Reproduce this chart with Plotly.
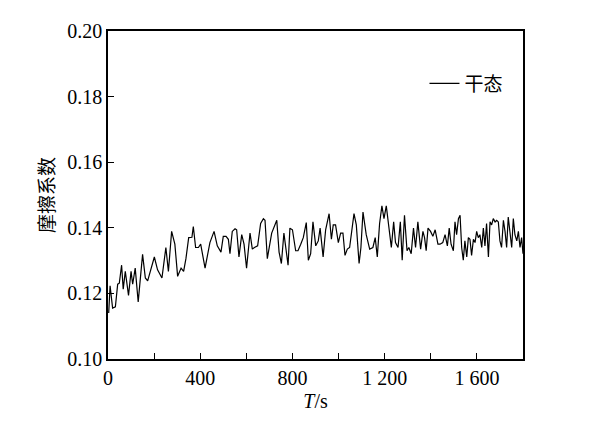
import plotly.graph_objects as go

# Time (s) and friction coefficient
time_s = [3, 9, 20, 32, 42, 49, 59, 66, 75, 89, 100, 107, 118, 131, 150, 162, 172, 186, 201, 215,
          234, 251, 262, 276, 290, 302, 317, 328, 338, 350,
          364, 370, 380, 392, 402, 421, 442, 460, 474, 490, 500, 512, 522, 529, 539, 551, 558, 568,
          580, 590, 601, 616, 626, 635, 649, 662, 674, 681, 691, 710,
          724, 732, 742, 752, 763, 781, 789, 800, 814, 824, 836, 847, 860, 869, 879, 889, 901, 912,
          920, 933, 944, 959, 969, 977, 987, 999, 1009, 1019, 1028, 1038, 1048, 1060, 1067, 1077,
          1089, 1097, 1106, 1120, 1135, 1149, 1159, 1168, 1178, 1188, 1197, 1207, 1217, 1229, 1239,
          1247, 1258, 1268, 1276, 1286, 1297, 1305, 1315, 1325, 1334, 1344, 1356, 1366, 1373, 1380,
          1388, 1399, 1409, 1419, 1431,
          1440, 1452, 1462, 1472, 1480, 1488, 1498, 1505, 1512, 1520, 1527, 1534, 1541, 1548, 1556,
          1563, 1570, 1577, 1585, 1592, 1599, 1606, 1613, 1621, 1628, 1635, 1642, 1650, 1657, 1664,
          1671, 1679, 1686, 1693, 1700, 1707, 1715, 1722, 1729, 1736, 1744, 1751, 1758, 1765, 1773,
          1780, 1787, 1794, 1800]
friction = [0.1140, 0.1223, 0.1155, 0.1159, 0.1228, 0.1231, 0.1286, 0.1213, 0.1267, 0.1194, 0.1267,
            0.1228, 0.1277, 0.1174, 0.1319, 0.1247, 0.1238, 0.1277, 0.1311, 0.1272,
            0.1247, 0.1340, 0.1267, 0.1389, 0.1350, 0.1252, 0.1277, 0.1267, 0.1306, 0.1370,
            0.1371, 0.1404, 0.1340, 0.1340, 0.1350, 0.1277, 0.1355, 0.1389, 0.1345, 0.1326, 0.1374,
            0.1374, 0.1365, 0.1321, 0.1389, 0.1397, 0.1394, 0.1311, 0.1379, 0.1350, 0.1277, 0.1384,
            0.1335, 0.1340, 0.1345, 0.1413, 0.1428, 0.1423, 0.1306, 0.1384,
            0.1409, 0.1423, 0.1326, 0.1291, 0.1384, 0.1286, 0.1399, 0.1394, 0.1330, 0.1330, 0.1350,
            0.1370, 0.1416, 0.1301, 0.1321, 0.1418, 0.1345, 0.1360, 0.1399, 0.1311, 0.1394, 0.1443,
            0.1365, 0.1409, 0.1409, 0.1355, 0.1384, 0.1384, 0.1316, 0.1335, 0.1340, 0.1418, 0.1443,
            0.1409, 0.1291,
            0.1340, 0.1448, 0.1379, 0.1335, 0.1340, 0.1370, 0.1311, 0.1413, 0.1467, 0.1428, 0.1467,
            0.1409, 0.1340, 0.1418, 0.1355, 0.1340, 0.1418, 0.1301, 0.1438, 0.1330, 0.1340, 0.1321,
            0.1399, 0.1340, 0.1418, 0.1335, 0.1389, 0.1370, 0.1330, 0.1399, 0.1389, 0.1374, 0.1394,
            0.1350,
            0.1350, 0.1355, 0.1379, 0.1345, 0.1399, 0.1350, 0.1330, 0.1418, 0.1379, 0.1428, 0.1438,
            0.1340, 0.1301, 0.1360, 0.1311, 0.1370, 0.1365, 0.1316, 0.1365, 0.1355, 0.1389, 0.1370,
            0.1379, 0.1340, 0.1399, 0.1345, 0.1413, 0.1311, 0.1418, 0.1409, 0.1428, 0.1418, 0.1423,
            0.1418, 0.1360, 0.1340, 0.1423, 0.1389, 0.1340, 0.1433, 0.1370, 0.1340, 0.1428, 0.1379,
            0.1360, 0.1389, 0.1340, 0.1370, 0.1321]

x_tick_vals = [0, 200, 400, 600, 800, 1000, 1200, 1400, 1600, 1800]
x_tick_text = ["0", "", "400", "", "800", "", "1 200", "", "1 600", ""]
y_tick_vals = [0.10, 0.12, 0.14, 0.16, 0.18, 0.20]
y_tick_text = ["0.10", "0.12", "0.14", "0.16", "0.18", "0.20"]

series_name = "干态"

fig = go.Figure()
fig.add_trace(go.Scatter(x=time_s, y=friction, mode="lines", name=series_name,
                         line=dict(color="black", width=1.2), showlegend=True))

serif = "Liberation Serif, Times New Roman, serif"
cjk = "Noto Sans CJK SC"
# page body has an 8px margin, so the figure is sized/offset to compensate
fig.update_layout(
    width=586, height=413,
    margin=dict(l=100, r=71, t=12, b=60),
    paper_bgcolor="white", plot_bgcolor="white",
    font=dict(family=serif, size=20, color="black"),
    showlegend=True,
    legend=dict(x=0.965, xanchor="right", y=0.84, yanchor="middle",
                bgcolor="rgba(0,0,0,0)", font=dict(family=cjk, size=19, color="black"),
                itemwidth=30, tracegroupgap=0),
    xaxis=dict(range=[0, 1800], tickvals=x_tick_vals, ticktext=x_tick_text,
               ticks="inside", ticklen=6, tickwidth=1, tickcolor="black",
               showline=True, linecolor="black", linewidth=1.5, mirror=True,
               showgrid=False, zeroline=False,
               tickfont=dict(family=serif, size=20, color="black"),
               title=dict(text="<i>T</i>/s", font=dict(family=serif, size=20, color="black"),
                          standoff=6)),
    yaxis=dict(range=[0.10, 0.20], tickvals=y_tick_vals, ticktext=y_tick_text,
               ticks="inside", ticklen=6, tickwidth=1, tickcolor="black",
               showline=True, linecolor="black", linewidth=1.5, mirror=True,
               showgrid=False, zeroline=False,
               tickfont=dict(family=serif, size=20, color="black"),
               title=dict(text="摩擦系数", font=dict(family=cjk, size=19, color="black"),
                          standoff=8)),
)

fig.write_html("out.html")
